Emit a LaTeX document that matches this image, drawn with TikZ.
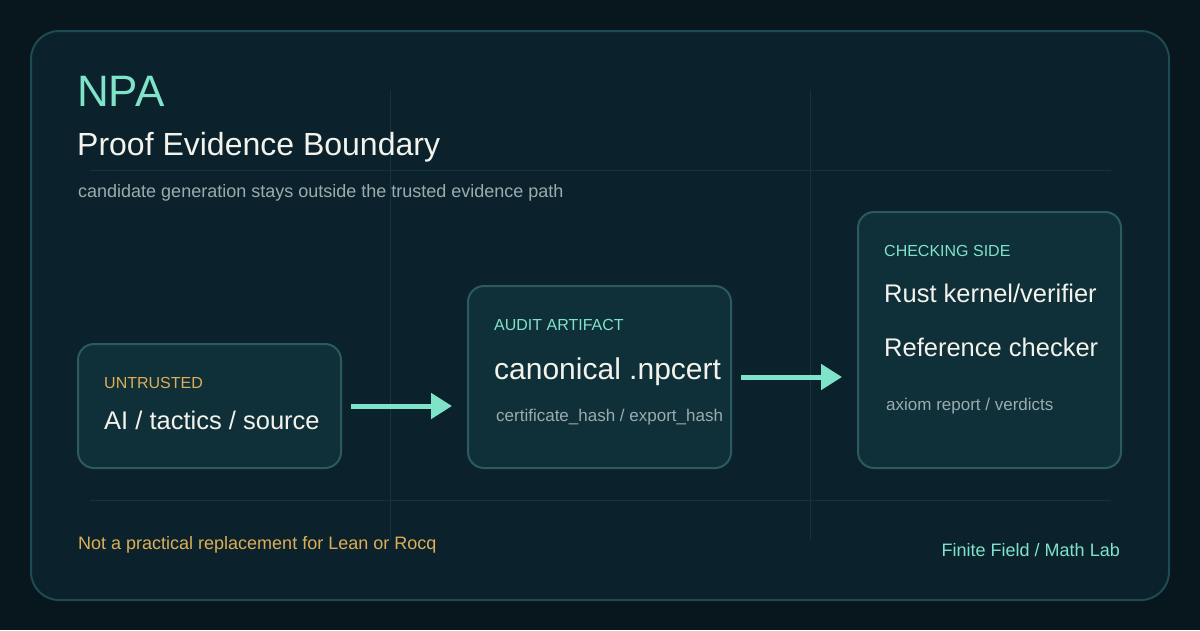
\documentclass[tikz,border=0pt]{standalone}
\usepackage{fontspec}
\setmainfont{Liberation Sans}
\usetikzlibrary{positioning}
\usetikzlibrary{calc}
\usetikzlibrary{arrows.meta}
\definecolor{bgdark}{HTML}{08171E}
\definecolor{panelfill}{HTML}{0B222C}
\definecolor{panelline}{HTML}{1E4A52}
\definecolor{cardfill}{HTML}{0F2F39}
\definecolor{cardline}{HTML}{2B5A60}
\definecolor{guidecol}{HTML}{12363D}
\definecolor{mint}{HTML}{7FE3C9}
\definecolor{gold}{HTML}{DDAE55}
\definecolor{ink}{HTML}{F3F3EC}
\definecolor{muted}{HTML}{9AACAE}
\newcommand{\fsz}[1]{\fontsize{#1}{#1}\selectfont}
\tikzset{card/.style={draw=cardline,fill=cardfill,line width=2pt,rounded corners=16pt,
  minimum width=263pt,inner sep=0pt}}
\tikzset{txt/.style={anchor=base west,inner sep=0pt}}
\tikzset{tag/.style={txt,text=mint,font=\fsz{16}}}
\tikzset{big/.style={txt,text=ink,font=\fsz{25.5}}}
\tikzset{small/.style={txt,text=muted,font=\fsz{17}}}
\tikzset{guide/.style={draw=guidecol,line width=1pt}}
\tikzset{flow/.style={draw=mint,line width=5pt,-{Triangle[length=21pt,width=25pt]}}}

\begin{document}
\begin{tikzpicture}[x=1pt,y=-1pt]
\useasboundingbox (0,0) rectangle (1200,630);
\fill[bgdark] (0,0) rectangle (1200,630);
\draw[panelline,fill=panelfill,line width=2pt,rounded corners=28pt] (31,31) rectangle (1169,600);

% guide lines
\draw[guide] (390,90) -- (390,540);
\draw[guide] (810,90) -- (810,540);
\draw[guide] (90,170) -- (1111,170);
\draw[guide] (90,500) -- (1111,500);

% header
\node[txt,text=mint,font=\fsz{44}] (npa) at (77,106) {NPA};
\node[txt,text=ink,font=\fsz{32}] (title) at (77,155) {Proof Evidence Boundary};
\node[txt,text=muted,font=\fsz{18}] (sub) at (78,197) {candidate generation stays outside the trusted evidence path};

% cards
\node[card,minimum height=124pt] (untrusted) at (209.5,406) {};
\node[card,minimum height=182pt] (artifact) at (599.5,377) {};
\node[card,minimum height=256pt] (checking) at (989.5,340) {};

\node[tag,text=gold] (untrustedtag) at (104,388) {UNTRUSTED};
\node[big] (untrustedtxt) at (104,429.5) {AI / tactics / source};

\node[tag] (artifacttag) at (494,330) {AUDIT ARTIFACT};
\node[big,font=\fsz{30}] (artifacttxt) at (494,379) {canonical .npcert};
\node[small] (artifactnote) at (496,421) {certificate\_hash / export\_hash};

\node[tag] (checkingtag) at (884,256) {CHECKING SIDE};
\node[big] (rust) at (884,302) {Rust kernel/verifier};
\node[big] (refchk) at (884,356.5) {Reference checker};
\node[small] (checkingnote) at (886,410) {axiom report / verdicts};

% arrows
\draw[flow,shorten <=9pt,shorten >=15pt] (untrusted.east) -- (untrusted.east -| artifact.west);
\draw[flow,shorten <=9pt,shorten >=15pt] (artifact.east) -- (artifact.east -| checking.west);

% footer
\node[txt,text=gold,font=\fsz{18}] (caveat) at (78,549) {Not a practical replacement for Lean or Rocq};
\node[anchor=base east,inner sep=0pt,text=mint,font=\fsz{18}] (credit) at (1120,556) {Finite Field / Math Lab};
\end{tikzpicture}
\end{document}
